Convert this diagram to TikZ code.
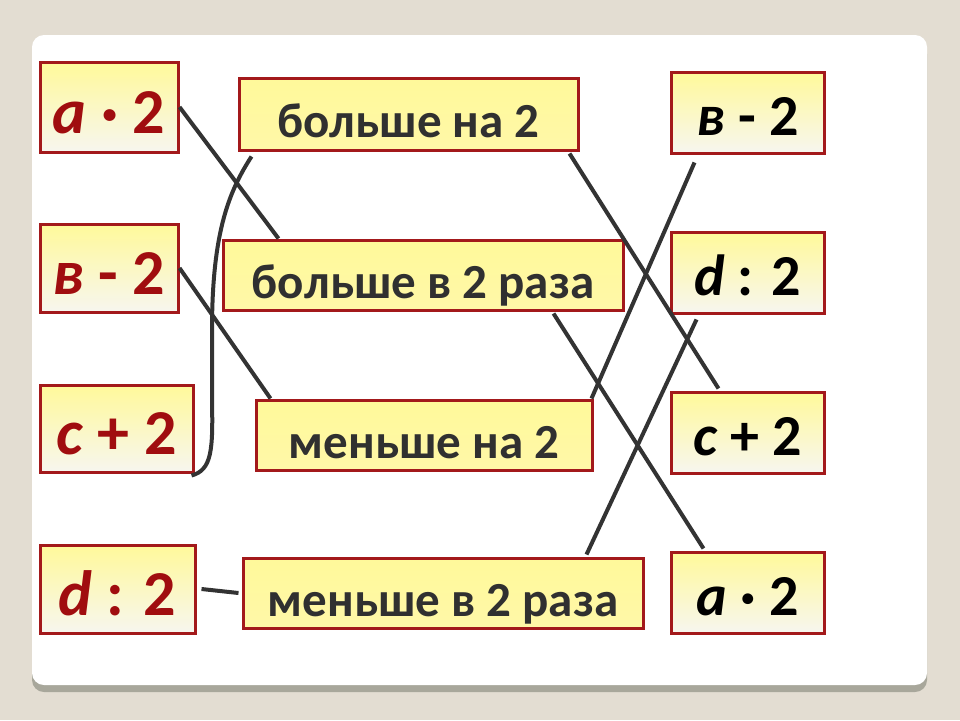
\documentclass[tikz,border=0pt]{standalone}
\usepackage{fontspec}
\setmainfont{Carlito}
\usetikzlibrary{calc}
\definecolor{bgc}{HTML}{E3DDD2}
\definecolor{shadowc}{HTML}{A8A79B}
\definecolor{boxred}{HTML}{A3191B}
\definecolor{boxtop}{HTML}{FFF99A}
\definecolor{boxmid}{HTML}{F6F5EF}
\definecolor{boxbot}{HTML}{F7F6EF}
\definecolor{boxbot2}{HTML}{FFF8A8}
\definecolor{txtred}{HTML}{A00D0F}
\definecolor{txtgray}{HTML}{303030}
\definecolor{linec}{HTML}{333333}
\tikzset{
  cardbox/.style={draw=boxred, line width=3pt, inner sep=0pt, text depth=0pt},
  lefttxt/.style={cardbox, top color=boxtop, bottom color=boxbot, text=txtred, text height=52pt, font=\fontsize{64}{72}\selectfont\bfseries},
  midtxt/.style={cardbox, top color=boxtop, middle color=boxmid, bottom color=boxbot2, text=txtgray, text height=46pt, font=\fontsize{49}{56}\selectfont\bfseries},
  righttxt/.style={cardbox, top color=boxtop, bottom color=boxbot, text=black, text height=46pt, font=\fontsize{58}{66}\selectfont\bfseries},
  link/.style={draw=linec, line width=4pt}
}
\begin{document}
\begin{tikzpicture}[x=1pt,y=-1pt]
\fill[bgc] (0,0) rectangle (960,720);
\useasboundingbox (0,0) rectangle (960,720);
\fill[shadowc, rounded corners=12pt] (32,42) rectangle (927,692);
\fill[white, rounded corners=12pt] (32,35) rectangle (927,685);

% left column
\node[lefttxt, minimum width=138pt, minimum height=90pt] (L1) at (109,107) {\textit{a} · 2};
\node[lefttxt, minimum width=138pt, minimum height=88pt] (L2) at (109,268) {\textit{в} - 2};
\node[lefttxt, minimum width=153pt, minimum height=87pt] (L3) at (116.5,428.5) {\textit{c} + 2};
\node[lefttxt, minimum width=155pt, minimum height=88pt] (L4) at (117.5,589) {\textit{d} : 2};

% middle column
\node[midtxt, minimum width=339pt, minimum height=72pt] (M1) at (408.5,114) {больше на 2};
\node[midtxt, minimum width=400pt, minimum height=70pt] (M2) at (423,275) {больше в 2 раза};
\node[midtxt, minimum width=336pt, minimum height=70pt] (M3) at (424,435) {меньше на 2};
\node[midtxt, minimum width=400pt, minimum height=70pt] (M4) at (443,593) {меньше в 2 раза};

% right column
\node[righttxt, minimum width=153pt, minimum height=81pt] (R1) at (747.5,112.5) {\textit{в} - 2};
\node[righttxt, minimum width=153pt, minimum height=81pt] (R2) at (747.5,272.5) {\textit{d} : 2};
\node[righttxt, minimum width=153pt, minimum height=81pt] (R3) at (747.5,432.5) {\textit{c} + 2};
\node[righttxt, minimum width=153pt, minimum height=81pt] (R4) at (747.5,592.5) {\textit{a} · 2};

% connectors
\draw[link] (L1.east) -- ($(M2.north west)+(57,0)$);
\draw[link] (L2.east) -- ($(M3.north west)+(16,0)$);
\draw[link] ($(L3.south east)+(-3,2)$) .. controls (212,470) and (213,450) .. (212,400)
   -- (212,330) .. controls (212,230) and (230,190) .. ($(M1.south west)+(14,5)$);
\draw[link] ($(L4.east)+(5,0)$) -- ($(M4.west)+(-3,0)$);
\draw[link] ($(M1.south east)+(-10,2)$) -- ($(R3.north west)+(49,-2)$);
\draw[link] ($(M2.south east)+(-71,2)$) -- ($(R4.north west)+(34,-2)$);
\draw[link] ($(M3.north east)+(-2,0)$) -- ($(R1.south west)+(25,8)$);
\draw[link] ($(M4.north east)+(-58,-2)$) -- ($(R2.south west)+(27,5)$);
\end{tikzpicture}
\end{document}
